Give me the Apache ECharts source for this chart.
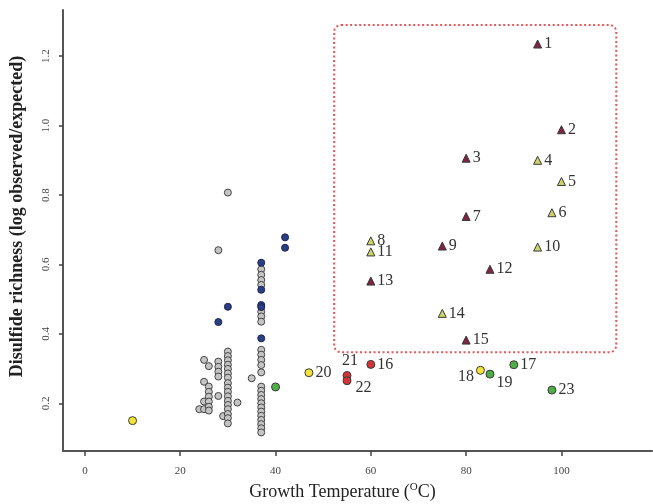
<!DOCTYPE html>
<html>
<head>
<meta charset="utf-8">
<script src="https://cdn.jsdelivr.net/npm/echarts@6/dist/echarts.min.js"></script>
<style>
  html, body { margin: 0; padding: 0; background: #fff; }
  #chart { width: 653px; height: 504px; }
</style>
</head>
<body>
<div id="chart"></div>
<script>
  // axis ticks
  var xTicks = [0, 20, 40, 60, 80, 100];
  var yTicks = [0.2, 0.4, 0.6, 0.8, 1.0, 1.2];

  // unlabelled grey organisms [temp, richness]
  var greyPoints = [
    [24, 0.183],
    [25, 0.325], [25, 0.262], [25, 0.205], [25, 0.183],
    [26, 0.307], [26, 0.248], [26, 0.233], [26, 0.219], [26, 0.205], [26, 0.190], [26, 0.179],
    [28, 0.641], [28, 0.320], [28, 0.305], [28, 0.291], [28, 0.277], [28, 0.221],
    [29, 0.163],
    [30, 0.807], [30, 0.349], [30, 0.336], [30, 0.324], [30, 0.311], [30, 0.299], [30, 0.286],
    [30, 0.274], [30, 0.258], [30, 0.245], [30, 0.233], [30, 0.220], [30, 0.207], [30, 0.195],
    [30, 0.183], [30, 0.169], [30, 0.157], [30, 0.142],
    [32, 0.202], [35, 0.272],
    [37, 0.586], [37, 0.570], [37, 0.555], [37, 0.541], [37, 0.464], [37, 0.450], [37, 0.435],
    [37, 0.354], [37, 0.340], [37, 0.325], [37, 0.310], [37, 0.289], [37, 0.248], [37, 0.236],
    [37, 0.224], [37, 0.212], [37, 0.200], [37, 0.188], [37, 0.176], [37, 0.164], [37, 0.152],
    [37, 0.140], [37, 0.128], [37, 0.116]
  ];
  var bluePoints = [
    [28, 0.434], [30, 0.478], [37, 0.605], [37, 0.527], [37, 0.483], [37, 0.477],
    [37, 0.387], [42, 0.678], [42, 0.648]
  ];
  // [temp, richness, label]
  var yellowPoints = [[10, 0.150, ''], [47, 0.288, '20'], [83, 0.295, '18']];
  var greenPoints = [[40, 0.247, ''], [85, 0.284, '19'], [90, 0.311, '17'], [98, 0.238, '23']];
  var redPoints = [[60, 0.312, '16'], [55, 0.280, '21'], [55, 0.265, '22']];
  var maroonTriangles = [
    [95, 1.235, '1'], [100, 0.988, '2'], [80, 0.906, '3'], [80, 0.738, '7'], [75, 0.653, '9'],
    [85, 0.586, '12'], [60, 0.552, '13'], [80, 0.382, '15']
  ];
  var oliveTriangles = [
    [95, 0.900, '4'], [100, 0.839, '5'], [98, 0.749, '6'], [60, 0.668, '8'], [95, 0.650, '10'],
    [60, 0.636, '11'], [75, 0.459, '14']
  ];
  // dotted highlight box corners
  var boxCorners = [[52.3, 1.29], [111.5, 0.347]];

  var serif = '"Liberation Serif", "DejaVu Serif", serif';

  // label placement tweaks for the crowded points
  var labelStyle = {
    '21': { position: 'top', distance: 2, offset: [3, 0] },
    '22': { position: 'right', offset: [2, 7] },
    '18': { position: 'left', offset: [0, 6] },
    '19': { position: 'right', offset: [0, 9] }
  };

  function toItems(list) {
    return list.map(function (p) {
      var item = { value: [p[0], p[1]], name: p[2] };
      if (p[2] === '') {
        item.label = { show: false };
      } else if (labelStyle[p[2]]) {
        item.label = labelStyle[p[2]];
      }
      return item;
    });
  }

  function labelled(name, list, symbol, fill) {
    return {
      name: name,
      type: 'scatter',
      symbol: symbol,
      symbolSize: 8,
      data: toItems(list),
      itemStyle: { color: fill, borderColor: '#3a3a3a', borderWidth: 1, opacity: 1 },
      label: {
        show: true,
        position: 'right',
        distance: 2,
        formatter: '{b}',
        color: '#333',
        fontSize: 16,
        fontFamily: serif
      },
      z: 5
    };
  }

  var myChart = echarts.init(document.getElementById('chart'));
  myChart.setOption({
    animation: false,
    backgroundColor: '#fff',
    grid: { left: 63, right: 1, top: 10, bottom: 53, outerBoundsMode: 'none' },
    xAxis: {
      type: 'value',
      min: -4.6,
      max: 119,
      name: 'Growth Temperature ({sup|O}C)',
      nameLocation: 'middle',
      nameGap: 30,
      nameTextStyle: {
        fontFamily: serif,
        fontSize: 18,
        color: '#222',
        padding: [0, 30, 0, 0],
        rich: {
          sup: { fontSize: 11, verticalAlign: 'top', padding: [0, 0, 9, 0], fontFamily: serif, color: '#222' }
        }
      },
      splitLine: { show: false },
      axisLine: { onZero: false, lineStyle: { color: '#555', width: 2 } },
      axisTick: { customValues: xTicks, length: 5, lineStyle: { color: '#444', width: 1.5 } },
      axisLabel: {
        customValues: xTicks,
        margin: 15,
        fontFamily: serif,
        fontSize: 11,
        color: '#444'
      }
    },
    yAxis: {
      type: 'value',
      min: 0.0625,
      max: 1.333,
      name: 'Disulfide richness (log observed/expected)',
      nameLocation: 'middle',
      nameGap: 37,
      nameTextStyle: {
        fontFamily: serif,
        fontSize: 18,
        fontWeight: 'bold',
        color: '#222',
        padding: [0, 0, 0, 28]
      },
      splitLine: { show: false },
      axisLine: { onZero: false, lineStyle: { color: '#555', width: 2 } },
      axisTick: { customValues: yTicks, length: 4, lineStyle: { color: '#444', width: 1.5 } },
      axisLabel: {
        customValues: yTicks,
        rotate: 90,
        margin: 11,
        fontFamily: serif,
        fontSize: 11,
        color: '#444',
        formatter: function (v) { return v.toFixed(1); }
      }
    },
    series: [
      {
        // rounded dotted box, placed through the axes
        name: 'Box',
        type: 'custom',
        silent: true,
        data: [boxCorners[0].concat(boxCorners[1])],
        renderItem: function (params, api) {
          var p1 = api.coord([api.value(0), api.value(1)]);
          var p2 = api.coord([api.value(2), api.value(3)]);
          return {
            type: 'rect',
            shape: { x: p1[0], y: p1[1], width: p2[0] - p1[0], height: p2[1] - p1[1], r: 7 },
            style: { fill: null, stroke: '#e4575a', lineWidth: 2, lineDash: [2, 2.5] }
          };
        },
        z: 1
      },
      {
        name: 'Other',
        type: 'scatter',
        symbol: 'circle',
        symbolSize: 7,
        data: greyPoints,
        itemStyle: { color: '#c4c4c4', borderColor: '#444', borderWidth: 1, opacity: 1 },
        z: 2
      },
      {
        name: 'Blue',
        type: 'scatter',
        symbol: 'circle',
        symbolSize: 7,
        data: bluePoints,
        itemStyle: { color: '#2b3d85', borderColor: '#1c2550', borderWidth: 1, opacity: 1 },
        z: 3
      },
      labelled('Yellow', yellowPoints, 'circle', '#f2e43a'),
      labelled('Green', greenPoints, 'circle', '#4fae45'),
      labelled('Red', redPoints, 'circle', '#d2343a'),
      labelled('Maroon', maroonTriangles, 'triangle', '#7e2442'),
      labelled('Olive', oliveTriangles, 'triangle', '#cbd36a')
    ]
  });
</script>
</body>
</html>
